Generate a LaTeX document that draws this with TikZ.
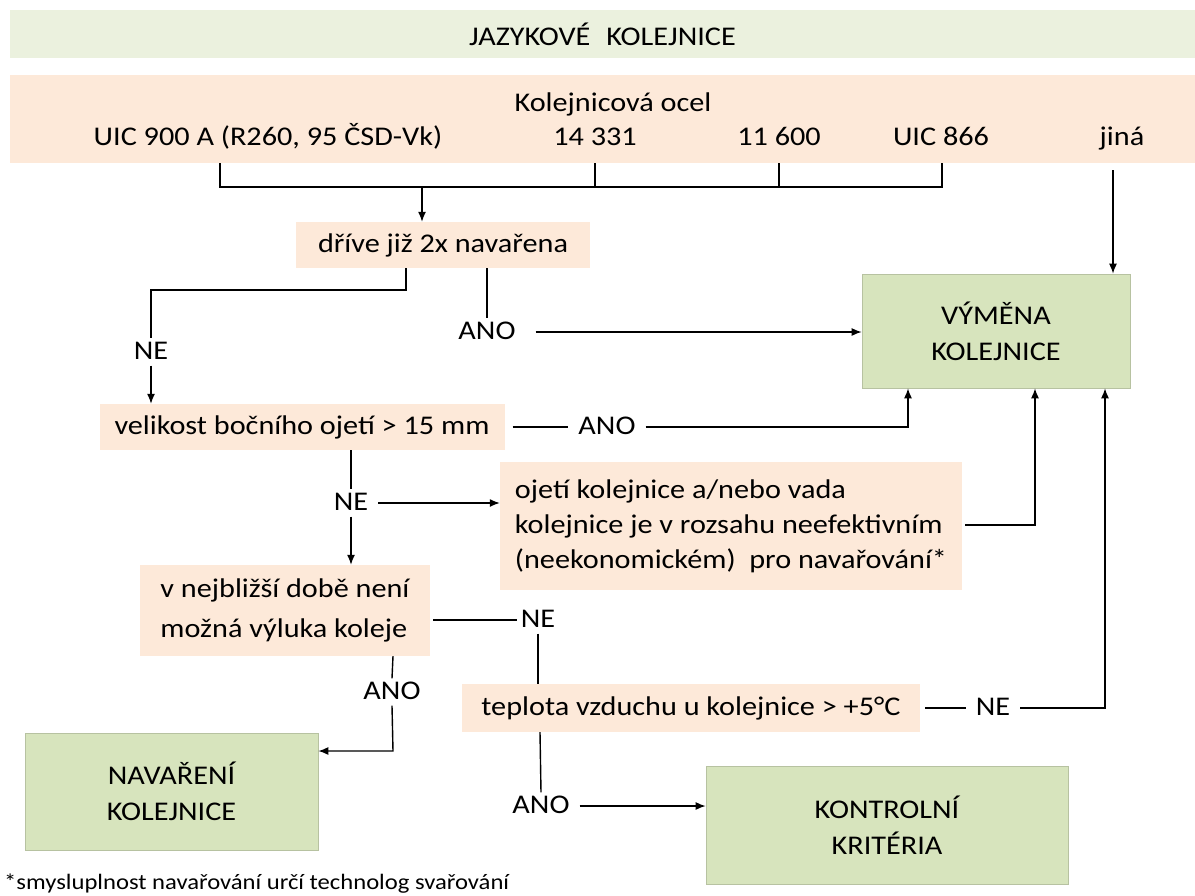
\documentclass[tikz,border=0pt]{standalone}
\usepackage{fontspec}
\setmainfont{Carlito}[FakeStretch=1.12]
\usetikzlibrary{positioning,calc,arrows.meta}
\definecolor{salmon}{HTML}{FDE9D9}
\definecolor{lgreen}{HTML}{EBF1DE}
\definecolor{mgreen}{HTML}{D7E4BD}
\tikzset{
  cond/.style={fill=salmon,inner sep=0pt},
  final/.style={fill=mgreen,draw=mgreen!85!black,line width=0.6pt,inner sep=0pt,align=center,font=\fontsize{27}{36}\selectfont},
  lbl/.style={inner xsep=10pt,inner ysep=4pt,text height=17pt,text depth=2pt},
  wire/.style={line width=1.4pt},
  arr/.style={wire,-{Latex[length=10pt,width=8pt]}}
}
\begin{document}
\begin{tikzpicture}[x=1pt,y=-1pt,font=\fontsize{27}{33}\selectfont]
    \useasboundingbox (0,0) rectangle (1195,895);
    % header bands
    \node[fill=lgreen,minimum width=1185pt,minimum height=48pt,inner sep=0pt] (hdr) at (602.5,34) {JAZYKOVÉ\hspace{16pt}KOLEJNICE};
    \node[cond,minimum width=1185pt,minimum height=88pt] (steel) at (602.5,119) {};
    \node[lbl] (ocel) at (613,104) {Kolejnicová ocel};
    \node[lbl] (s1) at (268,138) {UIC 900 A (R260, 95 ČSD-Vk)};
    \node[lbl] (s2) at (595,138) {14 331};
    \node[lbl] (s3) at (779,138) {11 600};
    \node[lbl] (s4) at (941,138) {UIC 866};
    \node[lbl] (s5) at (1122,138) {jiná};
    % condition boxes
    \node[cond,minimum width=294pt,minimum height=46pt] (twice) at (443,245) {dříve již 2x navařena};
    \node[cond,minimum width=405pt,minimum height=46pt] (side) at (302,427) {velikost bočního ojetí > 15 mm};
    \node[cond,minimum height=128pt,minimum width=462pt,align=left,font=\fontsize{27}{35}\selectfont] (wear) at (731,526) {ojetí kolejnice a/nebo vada\\kolejnice je v rozsahu neefektivním\\(neekonomickém) \ pro navařování*};
    \node[cond,minimum height=91pt,minimum width=290pt,align=left,font=\fontsize{27}{40}\selectfont] (outage) at (285,610.5) {v nejbližší době není\\možná výluka koleje\hspace{8pt}};
    \node[cond,minimum width=458pt,minimum height=48pt] (temp) at (691,708) {teplota vzduchu u kolejnice > +5°C};
    % final boxes
    \node[final,minimum width=268pt,minimum height=114pt] (replace) at (996,331) {VÝMĚNA\\KOLEJNICE};
    \node[final,minimum width=293pt,minimum height=117pt] (weld) at (171.5,791.5) {NAVAŘENÍ\\KOLEJNICE};
    \node[final,minimum width=362pt,minimum height=118pt] (check) at (887,825) {KONTROLNÍ\\KRITÉRIA};
    % answer labels
    \node[lbl] (ne1) at (151,352) {NE};
    \node[lbl] (ano1) at (487,332) {ANO};
    \node[lbl] (ano2) at (607,427) {ANO};
    \node[lbl] (ne2) at (351,503) {NE};
    \node[lbl,inner xsep=4pt] (ne3) at (538,620) {NE};
    \node[lbl] (ano3) at (392,692) {ANO};
    \node[lbl] (ne4) at (993,708) {NE};
    \node[lbl] (ano4) at (541,806) {ANO};
    \node[anchor=base west,inner sep=0pt,font=\fontsize{22}{24}\selectfont] (note) at (4,889) {*smysluplnost navařování určí technolog svařování};
    % steel bracket
    \coordinate (b1) at (220,187);
    \coordinate (b4) at (942,187);
    \coordinate (b0) at (422,187);
    \coordinate (j) at (1113,170);
    \draw[wire] (b1 |- steel.south) -- (b1) -- (b4) -- (b4 |- steel.south);
    \draw[wire] (s2 |- steel.south) -- (s2 |- b1);
    \draw[wire] (s3 |- steel.south) -- (s3 |- b1);
    \draw[arr] (b0) -- (b0 |- twice.north);
    \draw[arr] (j) -- (j |- replace.north);
    % decisions
    \coordinate (t1) at (406,290);
    \draw[wire] (t1 |- twice.south) -- (t1) -| (ne1.north);
    \draw[arr] (ne1.south) -- (ne1 |- side.north);
    \draw[wire] (ano1 |- twice.south) -- (ano1.north);
    \draw[arr] (ano1.east) ++(10,0) -- (ano1 -| replace.west);
    \coordinate (r1) at (908,427);
    \draw[wire] (side.east) ++(8,0) -- (ano2.west);
    \draw[arr] (ano2.east) -- (r1) -- (r1 |- replace.south);
    \draw[wire] (ne2 |- side.south) -- (ne2.north);
    \draw[arr] (ne2.east) -- (ne2 -| wear.west);
    \draw[arr] (ne2.south) -- (ne2 |- outage.north);
    \coordinate (r2) at (1035,525);
    \draw[arr] (wear.east |- r2) ++(3,0) -- (r2) -- (r2 |- replace.south);
    \draw[wire] (outage.east |- ne3) ++(3,0) -- (ne3.west);
    \draw[wire] (ne3.south) -- (ne3 |- temp.north);
    \coordinate (r3) at (1105,708);
    \draw[wire] (temp.east) ++(5,0) -- (ne4.west);
    \draw[arr] (ne4.east) -- (r3) -- (r3 |- replace.south);
    \coordinate (w1) at (393,751);
    \draw[wire] (w1 |- outage.south) -- (ano3.north);
    \draw[arr] (ano3.south) -- (w1) -- (w1 -| weld.east);
    \coordinate (k1) at (540,806);
    \draw[wire] (k1 |- temp.south) -- (ano4.north);
    \draw[arr] (ano4.east) -- (ano4 -| check.west);
\end{tikzpicture}
\end{document}
